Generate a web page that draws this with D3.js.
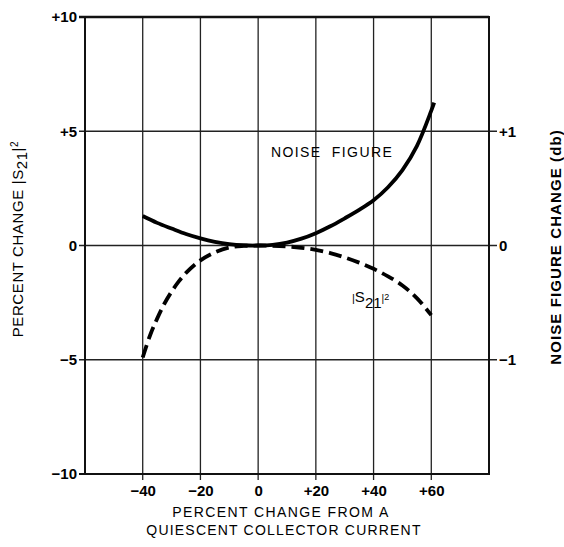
<!DOCTYPE html>
<html>
<head>
<meta charset="utf-8">
<script src="https://cdn.jsdelivr.net/npm/d3@7"></script>
<style>
  body { margin: 0; background: #fff; }
  svg text { font-family: "Liberation Sans", Arial, sans-serif; fill: #000; }
</style>
</head>
<body>
<div class="chartHolder"></div>
<script>
// data
const xTicks = [-40, -20, 0, 20, 40, 60];
const yTicks = [-10, -5, 0, 5, 10];
const y2Ticks = [-1, 0, 1];

const noiseX = [-40, -35, -30, -25, -20, -15, -10, -5, 0, 5, 10, 15, 20, 25, 30, 35, 40, 45, 50, 55, 60, 61];
const noiseY = [1.29, 0.99, 0.74, 0.5, 0.31, 0.16, 0.06, 0.01, 0, 0.03, 0.13, 0.3, 0.54, 0.84, 1.19, 1.56, 1.98, 2.55, 3.3, 4.35, 5.9, 6.25];

const s21X = [-40, -37.5, -35, -32.5, -30, -27.5, -25, -20, -15, -10, -5, 0, 5, 10, 15, 20, 25, 30, 35, 40, 45, 50, 55, 60];
const s21Y = [-4.9, -3.95, -3.2, -2.55, -2.02, -1.57, -1.2, -0.65, -0.3, -0.09, -0.02, 0, -0.01, -0.04, -0.1, -0.19, -0.33, -0.52, -0.75, -1.02, -1.35, -1.75, -2.3, -3.05];

// layout
const width = 564;
const height = 547;
const plotLeft = 85, plotRight = 489, plotTop = 17, plotBottom = 474;

const xScale = d3.scaleLinear().domain([-60, 80]).range([plotLeft, plotRight]);
const yScale = d3.scaleLinear().domain([-10, 10]).range([plotBottom, plotTop]);
const y2Scale = d3.scaleLinear().domain([-2, 2]).range([plotBottom, plotTop]);

const svg = d3.select(".chartHolder")
  .append("svg")
  .attr("width", width)
  .attr("height", height);

// grid lines
svg.append("g")
  .selectAll("line")
  .data(xTicks)
  .enter()
  .append("line")
  .attr("x1", d => xScale(d))
  .attr("x2", d => xScale(d))
  .attr("y1", plotTop)
  .attr("y2", plotBottom + 6)
  .attr("stroke", "#222")
  .attr("stroke-width", 1.3);

svg.append("g")
  .selectAll("line")
  .data([-5, 0, 5])
  .enter()
  .append("line")
  .attr("x1", plotLeft - 6)
  .attr("x2", plotRight + 8)
  .attr("y1", d => yScale(d))
  .attr("y2", d => yScale(d))
  .attr("stroke", "#222")
  .attr("stroke-width", 1.3);

// frame
svg.append("rect")
  .attr("x", plotLeft)
  .attr("y", plotTop)
  .attr("width", plotRight - plotLeft)
  .attr("height", plotBottom - plotTop)
  .attr("fill", "none")
  .attr("stroke", "#111")
  .attr("stroke-width", 2);

svg.append("line")
  .attr("x1", plotLeft - 6).attr("x2", plotRight)
  .attr("y1", yScale(10)).attr("y2", yScale(10))
  .attr("stroke", "#111").attr("stroke-width", 2.6);

svg.append("line")
  .attr("x1", plotLeft - 6).attr("x2", plotLeft)
  .attr("y1", yScale(-10)).attr("y2", yScale(-10))
  .attr("stroke", "#111").attr("stroke-width", 2);

// axes (labels only, grid drawn above)
const fmt = d => d > 0 ? "+" + d : d < 0 ? "\u2212" + Math.abs(d) : "0";

const xAxis = d3.axisBottom(xScale).tickValues(xTicks).tickFormat(fmt).tickSize(0).tickPadding(11);
const yAxis = d3.axisLeft(yScale).tickValues(yTicks).tickFormat(fmt).tickSize(0).tickPadding(8);
const y2Axis = d3.axisRight(y2Scale).tickValues(y2Ticks).tickFormat(fmt).tickSize(0).tickPadding(10);

[
  [xAxis, `translate(0, ${plotBottom})`],
  [yAxis, `translate(${plotLeft}, 0)`],
  [y2Axis, `translate(${plotRight}, 0)`]
].forEach(([ax, tr]) => {
  const g = svg.append("g").attr("transform", tr).call(ax);
  g.select(".domain").remove();
  g.selectAll("text")
    .attr("font-size", 15)
    .attr("font-weight", "bold")
    .attr("fill", "#000")
    .style("font-family", "'Liberation Sans', Arial, sans-serif");
});

// curves
const line = d3.line()
  .x(d => xScale(d[0]))
  .y(d => yScale(d[1]))
  .curve(d3.curveCatmullRom);

svg.append("path")
  .datum(noiseX.map((x, i) => [x, noiseY[i]]))
  .attr("d", line)
  .attr("fill", "none")
  .attr("stroke", "#000")
  .attr("stroke-width", 3.8);

svg.append("path")
  .datum(s21X.map((x, i) => [x, s21Y[i]]))
  .attr("d", line)
  .attr("fill", "none")
  .attr("stroke", "#000")
  .attr("stroke-width", 3.8)
  .attr("stroke-dasharray", "13,6");

// curve labels
svg.append("text")
  .attr("x", 271)
  .attr("y", 157)
  .attr("font-size", 14)
  .attr("letter-spacing", 1.4)
  .attr("word-spacing", 5)
  .text("NOISE FIGURE");

const s21Label = svg.append("text").attr("x", 352).attr("y", 302);
s21Label.append("tspan").attr("font-size", 11).text("|");
s21Label.append("tspan").attr("font-size", 15).text("S");
s21Label.append("tspan").attr("font-size", 15).attr("dy", 6).text("21");
s21Label.append("tspan").attr("font-size", 10).attr("dy", -6).text("|");
s21Label.append("tspan").attr("font-size", 9).attr("dy", -2).text("2");

// axis titles
const yTitle = svg.append("text")
  .attr("transform", "translate(23, 239) rotate(-90)")
  .attr("text-anchor", "middle")
  .attr("font-size", 15)
  .attr("letter-spacing", 0.6);
yTitle.append("tspan").text("PERCENT CHANGE |S");
yTitle.append("tspan").attr("dy", 4).text("21");
yTitle.append("tspan").attr("dy", -4).text("|");
yTitle.append("tspan").attr("dy", -5).attr("font-size", 10).text("2");

svg.append("text")
  .attr("transform", "translate(561, 247) rotate(-90)")
  .attr("text-anchor", "middle")
  .attr("font-size", 15)
  .attr("font-weight", "bold")
  .attr("letter-spacing", 1.1)
  .text("NOISE FIGURE CHANGE (db)");

svg.append("text")
  .attr("x", 281)
  .attr("y", 517)
  .attr("text-anchor", "middle")
  .attr("font-size", 14)
  .attr("letter-spacing", 1.4)
  .text("PERCENT CHANGE FROM A");

svg.append("text")
  .attr("x", 284)
  .attr("y", 535)
  .attr("text-anchor", "middle")
  .attr("font-size", 14)
  .attr("letter-spacing", 1.2)
  .text("QUIESCENT COLLECTOR CURRENT");
</script>
</body>
</html>
